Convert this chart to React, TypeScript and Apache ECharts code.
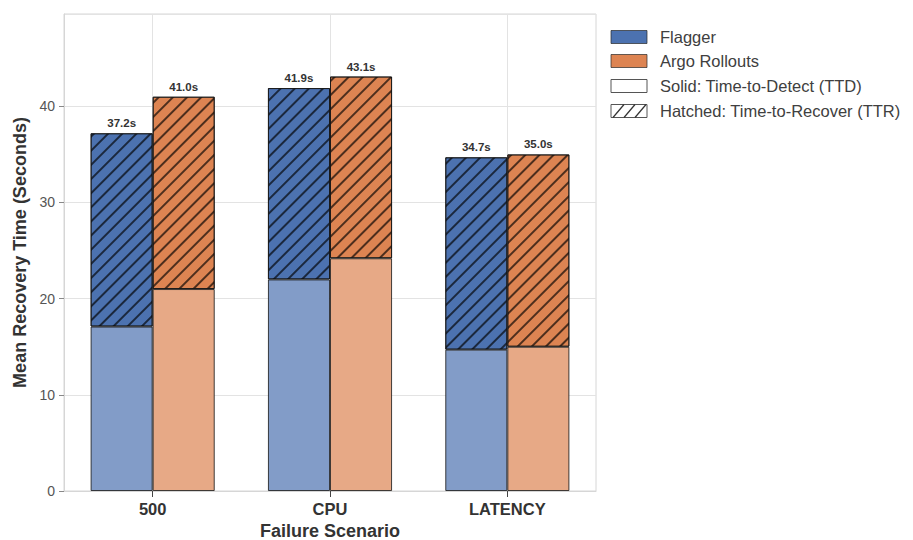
import React, { useEffect, useRef } from "react";
import * as echarts from "echarts";

const categories = ["500", "CPU", "LATENCY"];
const flaggerTTD = [17.1, 22.0, 14.7];
const flaggerTTR = [20.1, 19.9, 20.0];
const argoTTD = [21.0, 24.2, 15.0];
const argoTTR = [20.0, 18.9, 20.0];
const yTicks = [0, 10, 20, 30, 40];
const legendLabels = [
  "Flagger",
  "Argo Rollouts",
  "Solid: Time-to-Detect (TTD)",
  "Hatched: Time-to-Recover (TTR)",
];

const FONT = "'Liberation Sans', Arial, sans-serif";
const BLUE = "#4c72b0";
const ORANGE = "#dd8452";
const BLUE_L = "#829cc8";
const ORANGE_L = "#e7a986";
const EDGE = "rgba(20,20,20,0.8)";

const hatch = {
  symbol: "rect",
  symbolSize: 1,
  dashArrayX: [1, 0],
  dashArrayY: [1.6, 7.6],
  rotation: -Math.PI / 4,
  color: "rgba(0,0,0,0.65)",
};

export default function App() {
  const ref = useRef<HTMLDivElement>(null);
  useEffect(() => {
    if (!ref.current) return;
    const chart = echarts.init(ref.current, undefined, { renderer: "svg" });
    const labelFor = (ttd: number[], ttr: number[]) => ({
      show: true,
      position: "top",
      distance: 4,
      fontFamily: FONT,
      fontSize: 11.5,
      fontWeight: "bold",
      color: "#333",
      formatter: (p: any) => (ttd[p.dataIndex] + ttr[p.dataIndex]).toFixed(1) + "s",
    });

    const lx = 611;
    const rowY = [37, 61, 86, 111];
    const legendGraphics: any[] = [];
    const fills = [BLUE, ORANGE, "#ffffff", "#ffffff"];
    rowY.forEach((cy, i) => {
      legendGraphics.push({
        type: "rect",
        shape: { x: lx, y: cy - 6.5, width: 36, height: 13 },
        style: { fill: fills[i], stroke: i < 2 ? "rgba(40,40,40,0.7)" : "#555", lineWidth: 1 },
      });
      if (i === 3) {
        for (let k = 0; k < 3; k++) {
          legendGraphics.push({
            type: "line",
            shape: { x1: lx + 2 + k * 11, y1: cy + 6.5, x2: lx + 2 + k * 11 + 11, y2: cy - 6.5 },
            style: { stroke: "#333", lineWidth: 1.2 },
          });
        }
      }
      legendGraphics.push({
        type: "text",
        x: 660,
        y: cy,
        style: {
          text: legendLabels[i],
          fontFamily: FONT,
          fontSize: 16.5,
          fill: "#404040",
          verticalAlign: "middle",
          textAlign: "left",
        },
      });
    });

    chart.setOption({
      animation: false,
      backgroundColor: "#ffffff",
      textStyle: { fontFamily: FONT },
      grid: {
        left: 64,
        right: 317,
        top: 14,
        bottom: 49,
        show: true,
        borderColor: "#d6d6d6",
        borderWidth: 1,
        containLabel: false,
        outerBoundsMode: "none",
      },
      xAxis: {
        type: "category",
        data: categories,
        name: "Failure Scenario",
        nameLocation: "middle",
        nameGap: 31,
        nameTextStyle: { fontFamily: FONT, fontSize: 18, fontWeight: "bold", color: "#333" },
        axisLine: { show: true, lineStyle: { color: "#d6d6d6" } },
        axisTick: { show: true, alignWithLabel: true, length: 6, lineStyle: { color: "#444" } },
        axisLabel: { fontFamily: FONT, fontSize: 16.5, fontWeight: "bold", color: "#333", margin: 9 },
        splitLine: { show: true, alignWithLabel: true, lineStyle: { color: "#e3e3e3" } },
      },
      yAxis: {
        type: "value",
        min: 0,
        max: 49.6,
        interval: 10,
        name: "Mean Recovery Time (Seconds)",
        nameLocation: "middle",
        nameGap: 33,
        nameTextStyle: { fontFamily: FONT, fontSize: 18, fontWeight: "bold", color: "#333" },
        axisLine: { show: true, lineStyle: { color: "#d6d6d6" } },
        axisTick: { show: true, length: 5, lineStyle: { color: "#888" } },
        axisLabel: {
          fontFamily: FONT,
          fontSize: 14,
          color: "#555",
          margin: 9,
          showMaxLabel: false,
          formatter: (v: number) => (yTicks.includes(v) ? String(v) : ""),
        },
        splitLine: { show: true, lineStyle: { color: "#e3e3e3" } },
      },
      series: [
        {
          name: "Flagger TTD",
          type: "bar",
          stack: "flagger",
          data: flaggerTTD,
          barWidth: "35%",
          barGap: "0%",
          itemStyle: { color: BLUE_L, borderColor: EDGE, borderWidth: 1 },
        },
        {
          name: "Flagger TTR",
          type: "bar",
          stack: "flagger",
          data: flaggerTTR,
          barWidth: "35%",
          barGap: "0%",
          itemStyle: { color: BLUE, borderColor: EDGE, borderWidth: 1, decal: hatch },
          label: labelFor(flaggerTTD, flaggerTTR),
        },
        {
          name: "Argo TTD",
          type: "bar",
          stack: "argo",
          data: argoTTD,
          barWidth: "35%",
          barGap: "0%",
          itemStyle: { color: ORANGE_L, borderColor: EDGE, borderWidth: 1 },
        },
        {
          name: "Argo TTR",
          type: "bar",
          stack: "argo",
          data: argoTTR,
          barWidth: "35%",
          barGap: "0%",
          itemStyle: { color: ORANGE, borderColor: EDGE, borderWidth: 1, decal: hatch },
          label: labelFor(argoTTD, argoTTR),
        },
      ],
      graphic: legendGraphics,
    });
    return () => chart.dispose();
  }, []);
  return (
    <div
      ref={ref}
      style={{ position: "fixed", left: 0, top: 0, width: 913, height: 540, background: "#fff" }}
    />
  );
}
